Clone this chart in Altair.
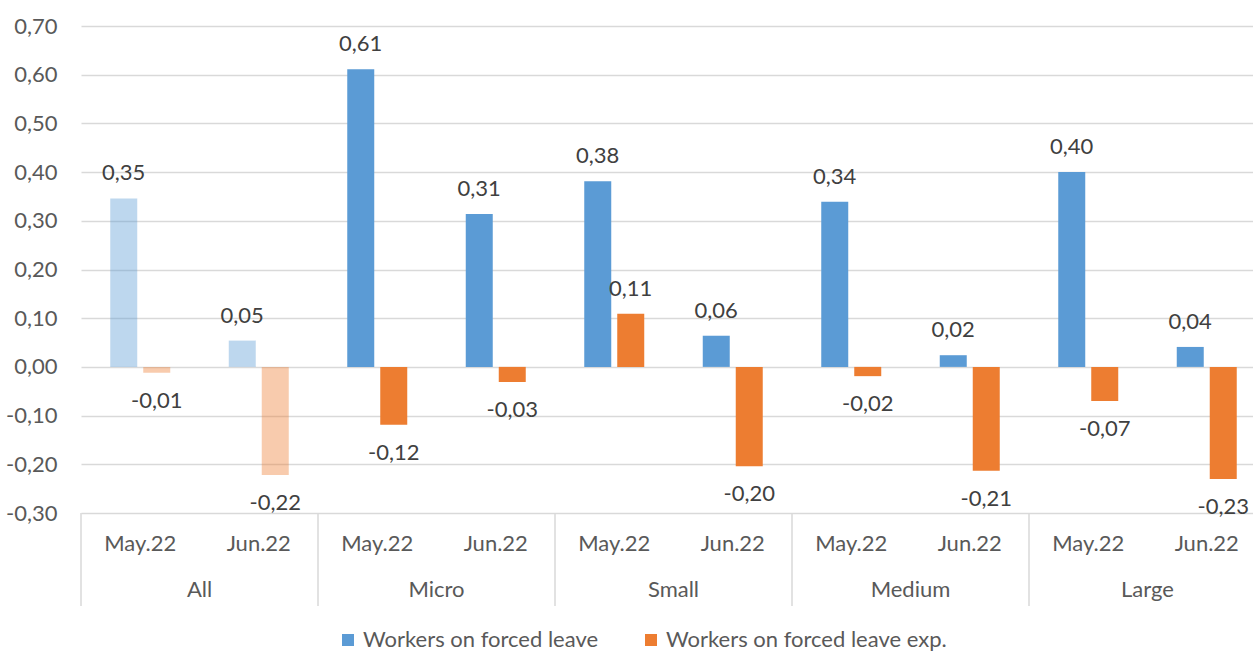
import altair as alt
import pandas as pd

# Firm size classes and survey months
categories = ["All", "Micro", "Small", "Medium", "Large"]
months = ["May.22", "Jun.22"]
series_names = ["Workers on forced leave", "Workers on forced leave exp."]

# One value per (category, month), in category order, May then June
forced_leave = [0.346, 0.054, 0.611, 0.314, 0.381, 0.064, 0.339, 0.024, 0.400, 0.041]
forced_leave_exp = [-0.012, -0.222, -0.119, -0.031, 0.109, -0.204, -0.019, -0.213, -0.070, -0.230]

y_ticks = [-0.3, -0.2, -0.1, 0.0, 0.1, 0.2, 0.3, 0.4, 0.5, 0.6, 0.7]

FONT = "Lato"
FS = 22
AXIS_GREY = "#595959"
LABEL_GREY = "#404040"
GRID = "#D9D9D9"

slots = [f"{c}|{m}" for c in categories for m in months]

rows = []
for i, slot in enumerate(slots):
    cat, month = slot.split("|")
    rows.append({"slot": slot, "cat": cat, "month": month,
                 "series": series_names[0], "value": forced_leave[i]})
    rows.append({"slot": slot, "cat": cat, "month": month,
                 "series": series_names[1], "value": forced_leave_exp[i]})
bars_df = pd.DataFrame(rows)

slot_df = pd.DataFrame({"slot": slots,
                        "month": [s.split("|")[1] for s in slots]})
cat_df = pd.DataFrame({"slot": [f"{c}|{months[0]}" for c in categories],
                       "cat": categories})

comma_fmt = "replace(replace(format({}, '.2f'), '.', ','), '\u2212', '-')"

x_scale = alt.Scale(domain=slots, range=[0, 1185], paddingInner=0, paddingOuter=0)
x_enc = alt.X("slot:N", scale=x_scale, axis=None)
xoff_enc = alt.XOffset("series:N",
                       scale=alt.Scale(domain=series_names,
                                       paddingInner=0.1818, paddingOuter=0.8864))
y_enc = alt.Y("value:Q",
              scale=alt.Scale(domain=[-0.3, 0.7], nice=False, zero=False),
              axis=alt.Axis(values=y_ticks, grid=True, gridColor=GRID,
                            gridWidth=1.5, domain=False, ticks=False,
                            labelPadding=24, labelFont=FONT, labelFontSize=FS,
                            labelColor=AXIS_GREY, title=None,
                            labelExpr=comma_fmt.format("datum.value")))

base = alt.Chart(bars_df)

bars = base.mark_bar().encode(
    x=x_enc,
    xOffset=xoff_enc,
    y=y_enc,
    color=alt.Color("series:N",
                    scale=alt.Scale(domain=series_names,
                                    range=["#5B9BD5", "#ED7D31"]),
                    legend=alt.Legend(title=None, orient="none",
                                      legendX=256, legendY=603,
                                      direction="horizontal",
                                      symbolType="square", symbolSize=144,
                                      symbolStrokeWidth=0,
                                      labelFont=FONT, labelFontSize=FS,
                                      labelColor=AXIS_GREY, labelOffset=4,
                                      labelLimit=0, columnPadding=41)),
    opacity=alt.condition("datum.cat == 'All'", alt.value(0.4), alt.value(1.0)),
)

labels = base.transform_calculate(
    lbl=comma_fmt.format("datum.value")
)
pos_labels = labels.transform_filter("datum.value >= 0").mark_text(
    font=FONT, fontSize=FS, color=LABEL_GREY, baseline="middle", dy=-25
).encode(x=x_enc, xOffset=xoff_enc, y=alt.Y("value:Q"), text="lbl:N")
neg_labels = labels.transform_filter("datum.value < 0").mark_text(
    font=FONT, fontSize=FS, color=LABEL_GREY, baseline="middle", dy=28
).encode(x=x_enc, xOffset=xoff_enc, y=alt.Y("value:Q"), text="lbl:N")

month_text = alt.Chart(slot_df).mark_text(
    font=FONT, fontSize=FS, color=AXIS_GREY, baseline="middle"
).encode(x=alt.X("slot:N", scale=x_scale, axis=None),
         y=alt.value(518), text="month:N")

cat_text = alt.Chart(cat_df).mark_text(
    font=FONT, fontSize=FS, color=AXIS_GREY, baseline="middle"
).encode(x=alt.X("slot:N", scale=x_scale, axis=None, bandPosition=1),
         y=alt.value(564), text="cat:N")

separators = alt.Chart(cat_df).mark_rule(color=GRID, strokeWidth=1.5).encode(
    x=alt.X("slot:N", scale=x_scale, axis=None, bandPosition=0),
    y=alt.value(487), y2=alt.value(580))

chart = alt.layer(
    bars, pos_labels, neg_labels, month_text, cat_text, separators
).properties(
    width=1172, height=487,
    autosize=alt.AutoSizeParams(type="none"),
    padding={"left": 81, "top": 26, "right": 0, "bottom": 138},
    background="white",
).configure_view(stroke=None)

chart.save("out.html", embed_options={"renderer": "svg", "actions": False})
